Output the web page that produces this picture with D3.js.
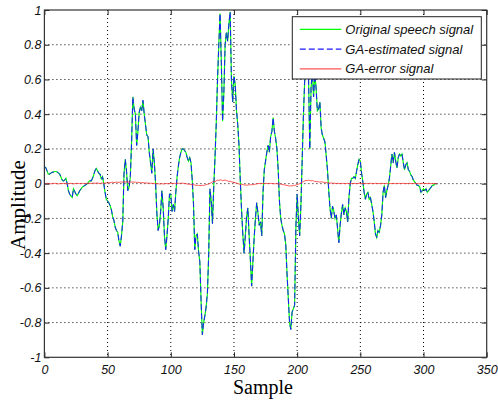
<!DOCTYPE html>
<html>
<head>
<meta charset="utf-8">
<script src="https://cdn.jsdelivr.net/npm/d3@7"></script>
<style>
  body { margin: 0; background: #fff; }
  svg { display: block; }
</style>
</head>
<body>
<div id="chart"></div>
<script>
// speech signal, one value per sample
const speech = [
  0.09,0.094,0.075,0.056,0.055,0.06,0.065,0.066,0.07,0.07,
  0.068,0.062,0.056,0.04,0.022,0.015,0.02,0.03,0.0,-0.04,
  -0.06,-0.07,-0.079,-0.03,-0.045,-0.06,-0.069,-0.055,-0.04,-0.03,
  -0.02,-0.015,-0.01,-0.005,0.0,0.01,0.017,0.015,0.03,0.05,
  0.075,0.088,0.075,0.06,0.056,0.027,0.04,0.0,-0.05,-0.09,
  -0.1,-0.11,-0.127,-0.15,-0.19,-0.21,-0.25,-0.27,-0.28,-0.33,
  -0.36,-0.3,-0.22,0.06,0.14,0.07,-0.04,-0.02,0.04,0.24,
  0.5,0.43,0.4,0.22,0.3,0.41,0.44,0.42,0.48,0.4,
  0.34,0.28,0.27,0.18,0.12,0.06,0.2,0.12,0.0,-0.17,
  -0.27,-0.24,-0.16,-0.04,-0.14,-0.3,-0.38,-0.3,-0.2,-0.06,
  -0.06,-0.16,-0.12,-0.16,-0.05,0.04,0.1,0.15,0.18,0.2,
  0.2,0.19,0.18,0.15,0.13,0.15,0.12,0.02,-0.12,-0.38,
  -0.3,-0.29,-0.39,-0.45,-0.68,-0.87,-0.8,-0.76,-0.71,-0.63,
  -0.41,-0.03,-0.1,-0.23,-0.02,0.15,0.35,0.6,0.8,0.98,
  0.7,0.36,0.52,0.8,0.87,0.82,0.92,0.99,0.6,0.47,
  0.62,0.57,0.42,0.34,0.22,0.02,-0.15,-0.29,-0.4,-0.3,
  -0.19,-0.14,-0.3,-0.44,-0.59,-0.45,-0.31,-0.2,-0.11,-0.17,
  -0.24,-0.22,-0.3,-0.05,0.08,0.13,0.18,0.22,0.18,0.27,
  0.3,0.38,0.3,0.26,0.2,0.08,-0.1,-0.2,-0.24,-0.27,
  -0.29,-0.35,-0.52,-0.66,-0.8,-0.84,-0.74,-0.72,-0.7,-0.25,
  -0.06,-0.2,-0.3,-0.12,0.14,0.4,0.6,0.87,0.75,0.62,
  0.2,0.55,0.65,0.5,0.63,0.55,0.42,0.43,0.47,0.32,
  0.28,0.26,0.24,0.16,0.08,-0.04,-0.14,-0.2,-0.13,-0.16,
  -0.2,-0.18,-0.26,-0.34,-0.24,-0.17,-0.12,-0.18,-0.14,-0.16,
  -0.22,-0.08,0.0,0.03,0.03,0.04,0.03,0.07,0.11,0.14,
  0.13,0.06,0.01,-0.05,-0.09,-0.06,-0.05,-0.09,-0.08,-0.12,
  -0.16,-0.22,-0.29,-0.31,-0.27,-0.28,-0.24,-0.18,-0.05,-0.01,
  -0.08,-0.04,-0.01,0.03,0.1,0.17,0.12,0.18,0.13,0.09,
  0.15,0.17,0.16,0.17,0.12,0.08,0.11,0.12,0.08,0.07,
  0.05,0.04,0.02,0.01,0.0,-0.01,-0.01,-0.02,-0.05,-0.04,
  -0.03,-0.04,-0.03,-0.05,-0.04,-0.03,-0.02,-0.01,-0.01,0.0,
  0.0,0.0
];

// GA estimate sits on top of the original in the figure
const gaEstimated = speech.slice();

const gaError = [
  0,0,0.002,0.001,0,-0.001,0,0.001,0.002,0.001,
  0,-0.002,0,0.001,0,0.002,0.001,0,-0.001,0,
  0.001,0.002,0,-0.001,0,0.001,0.002,0.001,0,0.001,
  0.002,0.001,0,0.001,0.002,0.003,0.002,0.001,0.002,0.003,
  0.002,0.003,0.004,0.002,0.001,0.003,0.004,0.002,0.003,0.005,
  0.004,0.006,0.005,0.007,0.008,0.006,0.007,0.009,0.008,0.007,
  0.009,0.01,0.008,0.01,0.009,0.011,0.01,0.008,0.01,0.009,
  0.01,0.008,0.009,0.007,0.008,0.006,0.007,0.005,0.006,0.004,
  0.005,0.003,0.004,0.002,0.003,0.001,0.002,0,0.001,-0.001,
  0,-0.002,-0.001,0,-0.002,-0.001,0.001,0,-0.001,0.001,
  0.002,0,0.001,0.002,0.001,0.003,0.002,0.001,0.002,0.003,
  0.002,0.001,0,-0.002,-0.004,-0.003,-0.005,-0.007,-0.006,-0.008,
  -0.01,-0.009,-0.011,-0.01,-0.012,-0.009,-0.011,-0.008,-0.006,-0.004,
  -0.002,0.002,0.006,0.01,0.014,0.012,0.016,0.02,0.018,0.022,
  0.02,0.017,0.019,0.021,0.018,0.016,0.013,0.014,0.011,0.009,
  0.007,0.005,0.003,0.001,-0.002,-0.004,-0.006,-0.005,-0.008,-0.007,
  -0.009,-0.008,-0.006,-0.007,-0.005,-0.006,-0.004,-0.003,-0.001,0,
  0.001,0,0.002,0.001,0,0.002,0.001,0,0.001,0.002,
  0.001,0,-0.001,0,0.001,-0.002,-0.003,-0.002,-0.004,-0.006,
  -0.007,-0.009,-0.01,-0.012,-0.014,-0.012,-0.013,-0.01,-0.011,-0.008,
  -0.005,-0.003,0,0.004,0.008,0.012,0.015,0.019,0.017,0.02,
  0.018,0.016,0.018,0.015,0.013,0.011,0.012,0.01,0.009,0.011,
  0.009,0.008,0.007,0.006,0.005,0.004,0.003,0.004,0.002,0.003,
  0.002,0.001,0.002,0.001,0,0.001,0.002,0.001,0,0.001,
  0.002,0.001,0,0.001,0,0.002,0.001,0,0.001,0.002,
  0.001,0,0.001,0,0.002,0.001,0,0.001,0.002,0.001,
  0,0.001,0.002,0.001,0,0.001,0,0.002,0.001,0,
  0.001,0.002,0.001,0,0.001,0,0.002,0.001,0,0.001,
  0.002,0.001,0,0.001,0.002,0.001,0,0.001,0,0.002,
  0.001,0,0.001,0.002,0.001,0,0.001,0,0.001,0.002,
  0.001,0,0.001,0,0.002,0.001,0,0.001,0,0.001,
  0,0
];

const xTicks = [0, 50, 100, 150, 200, 250, 300, 350];
const yTicks = [-1, -0.8, -0.6, -0.4, -0.2, 0, 0.2, 0.4, 0.6, 0.8, 1];
const seriesNames = ["Original speech signal", "GA-estimated signal", "GA-error signal"];

let margin = { top: 10, right: 11.3, bottom: 45.7, left: 44.4 },
    width = 498 - margin.left - margin.right,
    height = 403 - margin.top - margin.bottom;

let svg = d3.select("#chart")
    .append("svg")
    .attr("width", 498)
    .attr("height", 403);

let g = svg.append("g")
    .attr("transform", `translate(${margin.left},${margin.top})`);

let x = d3.scaleLinear().domain([0, 350]).range([0, width]);
let y = d3.scaleLinear().domain([-1, 1]).range([height, 0]);

let tickFont = "'Liberation Sans', Arial, sans-serif";
let labelFont = "'Liberation Serif', 'Times New Roman', serif";

// dotted grid
g.append("g")
    .selectAll("line")
    .data(xTicks.slice(1, -1))
    .enter().append("line")
    .attr("x1", d => x(d)).attr("x2", d => x(d))
    .attr("y1", 0).attr("y2", height)
    .attr("stroke", "#000")
    .attr("stroke-width", 1)
    .attr("stroke-dasharray", "1,3");

g.append("g")
    .selectAll("line")
    .data(yTicks.slice(1, -1))
    .enter().append("line")
    .attr("x1", 0).attr("x2", width)
    .attr("y1", d => y(d)).attr("y2", d => y(d))
    .attr("stroke", "#000")
    .attr("stroke-width", 1)
    .attr("stroke-dasharray", "1,3");

// series
let line = d3.line()
    .x((d, i) => x(i))
    .y(d => y(d));

g.append("path")
    .datum(speech)
    .attr("fill", "none")
    .attr("stroke", "#00ff00")
    .attr("stroke-width", 1.2)
    .attr("d", line);

g.append("path")
    .datum(gaEstimated)
    .attr("fill", "none")
    .attr("stroke", "#1a1aff")
    .attr("stroke-width", 1)
    .attr("stroke-dasharray", "6,3")
    .attr("d", line);

g.append("path")
    .datum(gaError)
    .attr("fill", "none")
    .attr("stroke", "#ff2a2a")
    .attr("stroke-opacity", 0.8)
    .attr("stroke-width", 1)
    .attr("d", line);

// axes, ticks pointing inward
g.append("g")
    .attr("transform", `translate(0,${height})`)
    .call(d3.axisBottom(x).tickValues(xTicks).tickSize(-5).tickPadding(8)
        .tickFormat(d => String(d)));

g.append("g")
    .call(d3.axisLeft(y).tickValues(yTicks).tickSize(-5).tickPadding(3)
        .tickFormat(d => String(d)));

g.append("g")
    .call(d3.axisTop(x).tickValues(xTicks).tickSize(-5).tickFormat(""));

g.append("g")
    .attr("transform", `translate(${width},0)`)
    .call(d3.axisRight(y).tickValues(yTicks).tickSize(-5).tickFormat(""));

g.selectAll(".domain").remove();
g.selectAll(".tick line").attr("stroke", "#222");
g.selectAll(".tick text")
    .style("font-family", tickFont)
    .style("font-style", "italic")
    .style("font-size", "12.5px")
    .attr("fill", "#111");

// box
g.append("rect")
    .attr("x", 0).attr("y", 0)
    .attr("width", width).attr("height", height)
    .attr("fill", "none")
    .attr("stroke", "#333")
    .attr("stroke-width", 1.2);

// legend
let legend = svg.append("g")
    .attr("transform", "translate(292.3,16.7)");

legend.append("rect")
    .attr("width", 189)
    .attr("height", 62.3)
    .attr("fill", "#fff")
    .attr("stroke", "#222")
    .attr("stroke-width", 1);

let legendStyles = [
    { stroke: "#00ff00", dash: null, opacity: 1 },
    { stroke: "#1a1aff", dash: "6,3", opacity: 1 },
    { stroke: "#ff2a2a", dash: null, opacity: 0.8 }
];

seriesNames.forEach((name, i) => {
    let row = legend.append("g")
        .attr("transform", `translate(0,${12.6 + i * 19.8})`);
    row.append("line")
        .attr("x1", 7.5).attr("x2", 49)
        .attr("stroke", legendStyles[i].stroke)
        .attr("stroke-opacity", legendStyles[i].opacity)
        .attr("stroke-width", 1.2)
        .attr("stroke-dasharray", legendStyles[i].dash);
    row.append("text")
        .attr("x", 53)
        .attr("dy", "0.35em")
        .style("font-family", tickFont)
        .style("font-style", "italic")
        .style("font-size", "13px")
        .attr("fill", "#111")
        .text(name);
});

// axis labels
svg.append("text")
    .attr("x", 263)
    .attr("y", 394)
    .attr("text-anchor", "middle")
    .style("font-family", labelFont)
    .style("font-size", "20px")
    .text("Sample");

svg.append("text")
    .attr("transform", "translate(25,205) rotate(-90)")
    .attr("text-anchor", "middle")
    .style("font-family", labelFont)
    .style("font-size", "21px")
    .text("Amplitude");
</script>
</body>
</html>
